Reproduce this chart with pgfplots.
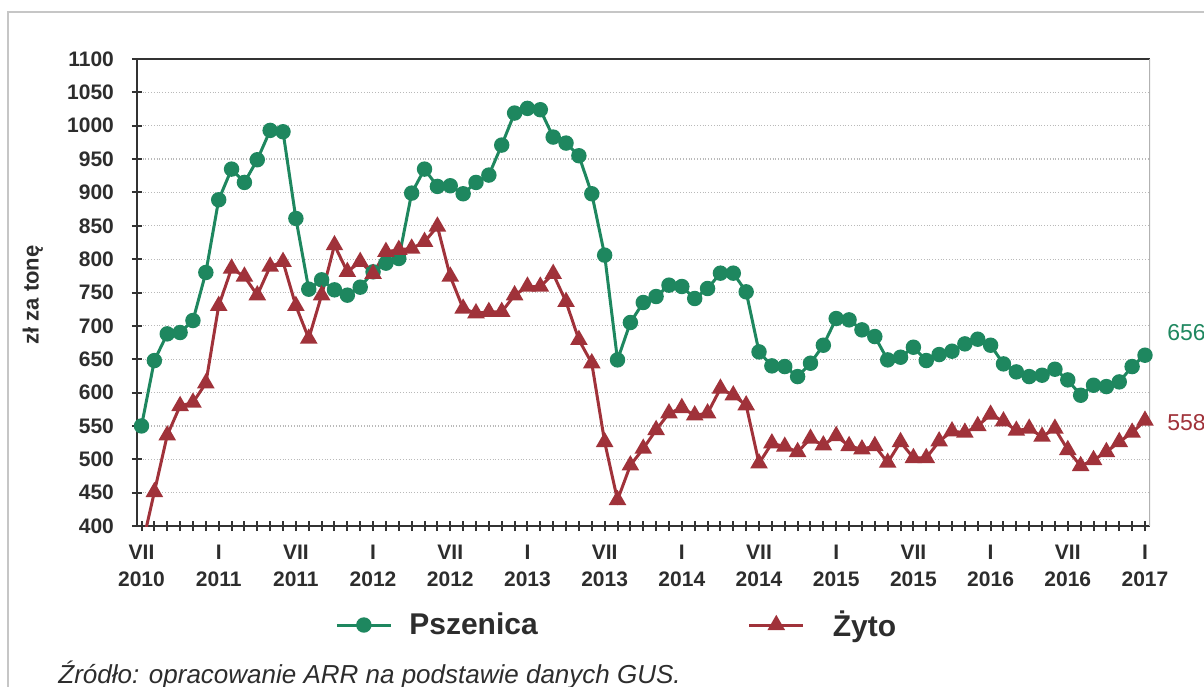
\documentclass[border=0pt]{standalone}
\usepackage{fontspec}
\setmainfont{Liberation Sans}
\usepackage{pgfplots}
\pgfplotsset{compat=1.18}
\definecolor{psz}{RGB}{30,135,95}
\definecolor{zyt}{RGB}{160,50,58}
\definecolor{txt}{RGB}{45,45,45}

\pgfplotstableread{
m v
0 550
1 648
2 688
3 690
4 708
5 780
6 889
7 935
8 915
9 949
10 993
11 991
12 861
13 755
14 769
15 754
16 746
17 758
18 781
19 794
20 801
21 899
22 935
23 909
24 910
25 898
26 915
27 926
28 971
29 1019
30 1026
31 1024
32 983
33 974
34 955
35 898
36 806
37 649
38 705
39 735
40 744
41 761
42 759
43 741
44 756
45 779
46 779
47 751
48 661
49 640
50 639
51 624
52 644
53 671
54 711
55 709
56 694
57 684
58 649
59 653
60 668
61 648
62 657
63 662
64 673
65 680
66 671
67 643
68 631
69 624
70 626
71 635
72 619
73 596
74 611
75 609
76 616
77 639
78 656
}\pszenica

\pgfplotstableread{
m v
0 366
1 451
2 536
3 580
4 585
5 614
6 730
7 786
8 774
9 746
10 789
11 796
12 730
13 681
14 746
15 821
16 781
17 796
18 778
19 811
20 814
21 816
22 826
23 849
24 774
25 726
26 719
27 721
28 721
29 746
30 759
31 759
32 778
33 736
34 679
35 644
36 526
37 439
38 491
39 516
40 544
41 569
42 577
43 566
44 569
45 606
46 596
47 581
48 494
49 524
50 519
51 511
52 531
53 521
54 535
55 520
56 515
57 520
58 495
59 526
60 502
61 502
62 527
63 542
64 540
65 550
66 567
67 557
68 543
69 546
70 534
71 546
72 514
73 490
74 499
75 511
76 526
77 540
78 558
}\zyto

\begin{document}
\begin{tikzpicture}
\useasboundingbox (0pt,0pt) rectangle (602pt,343pt);
\draw[gray!45, line width=1pt] (4pt,-5pt) -- (4pt,337pt) -- (610pt,337pt);
\begin{axis}[
  at={(68.5pt,80pt)}, anchor=south west,
  width=506.5pt, height=233.5pt, scale only axis,
  xmin=-0.35, xmax=78.39, ymin=400, ymax=1100,
  axis x line*=box, axis y line*=left,
  ytick={400,450,...,1100},
  xtick={0,...,78},
  xticklabels={{VII\\2010},{},{},{},{},{},{I\\2011},{},{},{},{},{},{VII\\2011},{},{},{},{},{},{I\\2012},{},{},{},{},{},{VII\\2012},{},{},{},{},{},{I\\2013},{},{},{},{},{},{VII\\2013},{},{},{},{},{},{I\\2014},{},{},{},{},{},{VII\\2014},{},{},{},{},{},{I\\2015},{},{},{},{},{},{VII\\2015},{},{},{},{},{},{I\\2016},{},{},{},{},{},{VII\\2016},{},{},{},{},{},{I\\2017}},
  xtick pos=bottom, ytick pos=left,
  tick align=center,
  major tick length=5pt,
  xtick style={line width=1pt, black!80},
  ytick style={line width=1pt, black!80},
  axis line style={black!80, line width=1pt},
  ymajorgrids,
  grid style={densely dotted, gray!55, line width=0.6pt},
  /pgf/number format/assume math mode=true,
  /pgf/number format/1000 sep={},
  scaled y ticks=false,
  yticklabel style={font=\bfseries\fontsize{10.5}{12}\selectfont, text=txt, xshift=-5.5pt},
  x tick label style={font=\bfseries\fontsize{10.5}{13.5}\selectfont, text=txt, align=center, yshift=-3.5pt},
  ylabel={zł za tonę},
  ylabel style={at={(axis description cs:-0.1027,0.4946)}, anchor=center, font=\bfseries\fontsize{11}{12}\selectfont, text=txt},
  legend columns=2,
  legend style={at={(axis description cs:0.1895,-0.212)}, anchor=west, draw=none, fill=none,
    font=\bfseries\fontsize{15}{16}\selectfont, text=txt,
    nodes={inner sep=0pt},
    /tikz/every odd column/.append style={column sep=8.5pt},
    /tikz/every even column/.append style={column sep=105pt}},
  legend image code/.code={\draw[mark repeat=2,mark phase=2,#1] plot coordinates {(0pt,0pt)(13.5pt,0pt)(27pt,0pt)};},
]
\draw[gray!60, line width=0.7pt] (rel axis cs:1,0) -- (rel axis cs:1,1);
\addplot[color=psz, line width=1.5pt, mark=*, mark size=3.1pt, mark options={solid, fill=psz}] table[x=m,y=v] {\pszenica};
\addlegendentry{Pszenica}
\addplot[color=zyt, line width=1.5pt, mark=triangle*, mark size=3.6pt, mark options={solid, fill=zyt}] table[x=m,y=v] {\zyto};
\addlegendentry{\hspace{5.5pt}Żyto}
\end{axis}
\node[anchor=west, text=psz, font=\fontsize{11.5}{13}\selectfont, inner sep=0pt] at (583.5pt,176.5pt) {656};
\node[anchor=west, text=zyt, font=\fontsize{11.5}{13}\selectfont, inner sep=0pt] at (583.5pt,131.5pt) {558};
\node[anchor=base west, text=txt, font=\itshape\fontsize{13}{15}\selectfont, inner sep=0pt] at (29pt,1.5pt) {Źródło: opracowanie ARR na podstawie danych GUS.};
\end{tikzpicture}
\end{document}
